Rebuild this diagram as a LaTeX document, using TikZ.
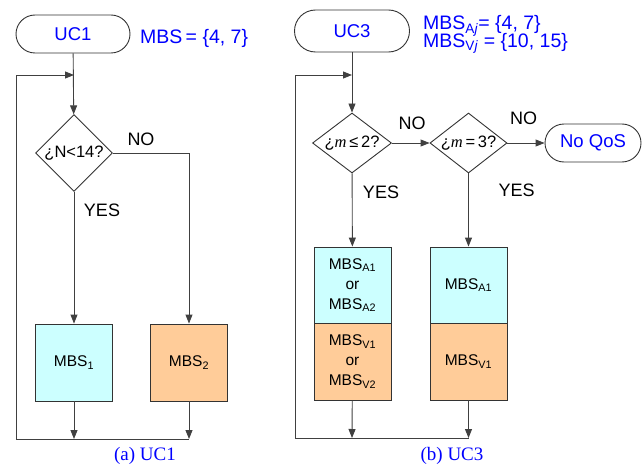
\documentclass[tikz,border=0pt]{standalone}
\usepackage{fontspec}
\setmainfont{Liberation Sans}
\newfontfamily\capfont{Liberation Serif}
\usetikzlibrary{arrows.meta,shapes.geometric}
\definecolor{boxcyan}{RGB}{204,255,255}
\definecolor{boxorange}{RGB}{255,204,153}
\newcommand{\mvar}{{\capfont\itshape m}}
\tikzset{
	flow/.style={draw=black!75, line width=0.9pt},
	arr/.style={flow, -{Triangle[length=9pt,width=7pt]}},
	term/.style={draw=black!80, line width=0.9pt, rounded corners=19pt, inner sep=0pt, minimum width=114pt, minimum height=38pt, text=blue, font=\fontsize{18.5}{20}\selectfont},
	test/.style={diamond, draw=black!80, line width=0.9pt, inner sep=0pt, minimum width=77pt, minimum height=77pt, font=\fontsize{16.5}{20}\selectfont},
	mbsbox/.style={draw=black!80, line width=0.9pt, inner sep=0pt, minimum width=77pt, minimum height=77pt, align=center, font=\fontsize{15.5}{20}\selectfont},
	lbl/.style={font=\fontsize{18}{20}\selectfont},
	setlbl/.style={text=blue, anchor=base west, inner sep=0pt, font=\fontsize{19.5}{20}\selectfont},
	subcap/.style={text=blue, font=\capfont\fontsize{19}{22}\selectfont}
}
\begin{document}
\begin{tikzpicture}[x=1pt, y=-1pt]
			%%%%% START %%%%%
			\useasboundingbox (0, 0) rectangle (644, 468);
			
			% (a) UC1
			\node[term] (uca) at (73, 34) {UC1};
			\node[setlbl] (seta) at (140, 44) {MBS\,= \{4, 7\}};
			\node[test] (tsta) at (74, 153) {\makebox[0pt]{¿N<14?}};
			\node[mbsbox, fill=boxcyan] (mbsa) at (74, 362.5) {MBS\textsubscript{1}};
			\node[mbsbox, fill=boxorange] (mbsb) at (189, 362.5) {MBS\textsubscript{2}};
			\node[lbl] (noa) at (141, 139) {NO};
			\node[lbl] (yesa) at (102, 210) {YES};
			\coordinate (joina) at (74, 75);
			\coordinate (enda) at (74, 439);
			\coordinate (endb) at (189, 439);
			\coordinate (cornera) at (16, 439);
			
			\draw[arr] (uca) -- (tsta);
			\draw[arr] (tsta.east) -| (mbsb.north);
			\draw[arr] (tsta) -- (mbsa);
			\draw[arr] (mbsa) -- (enda);
			\draw[arr] (mbsb) -- (endb);
			\draw[arr] (endb) -- (cornera) |- (joina);
			
			\node[subcap] (capa) at (145, 456) {(a) UC1};
			
			% (b) UC3
			\node[term, minimum width=115pt, minimum height=42pt, rounded corners=21pt] (ucb) at (352, 31) {UC3};
			\node[setlbl] (setaj) at (423, 30) {MBS\textsubscript{A\textit{j}}= \{4, 7\}};
			\node[setlbl] (setvj) at (423, 47.7) {MBS\textsubscript{V\textit{j}} = \{10, 15\}};
			\node[test, minimum width=79pt, minimum height=60pt] (tstb) at (352, 143) {\makebox[0pt]{¿\mvar\,≤\,2?}};
			\node[test, minimum width=77pt, minimum height=60pt] (tstc) at (468.5, 143) {\makebox[0pt]{¿\mvar\,=\,3?}};
			\node[term, minimum width=96pt] (noqos) at (593, 143) {No QoS};
			\node[mbsbox, fill=boxcyan, minimum height=76pt] (mbsaa) at (352.5, 285) {MBS\textsubscript{A1}\\or\\MBS\textsubscript{A2}};
			\node[mbsbox, fill=boxorange] (mbsva) at (352.5, 361.5) {MBS\textsubscript{V1}\\or\\MBS\textsubscript{V2}};
			\node[mbsbox, fill=boxcyan, minimum height=76pt] (mbsab) at (468.5, 285) {MBS\textsubscript{A1}};
			\node[mbsbox, fill=boxorange] (mbsvb) at (468.5, 361.5) {MBS\textsubscript{V1}};
			\node[lbl] (nob) at (412, 123.5) {NO};
			\node[lbl] (noc) at (523.5, 118.5) {NO};
			\node[lbl] (yesb) at (381, 192) {YES};
			\node[lbl] (yesc) at (516.5, 190) {YES};
			\coordinate (joinb) at (352, 75);
			\coordinate (endc) at (352, 438);
			\coordinate (endd) at (468.5, 438);
			\coordinate (cornerb) at (295, 438);
			
			\draw[arr] (ucb) -- (tstb);
			\draw[arr] (tstb) -- (tstc);
			\draw[arr] (tstc) -- (noqos);
			\draw[arr] (tstb) -- (mbsaa);
			\draw[arr] (tstc) -- (mbsab);
			\draw[arr] (mbsva) -- (endc);
			\draw[arr] (mbsvb) -- (endd);
			\draw[arr] (endd) -- (cornerb) |- (joinb);
			
			\node[subcap] (capb) at (452, 456) {(b) UC3};
			%%%%% END %%%%%
\end{tikzpicture}
\end{document}
